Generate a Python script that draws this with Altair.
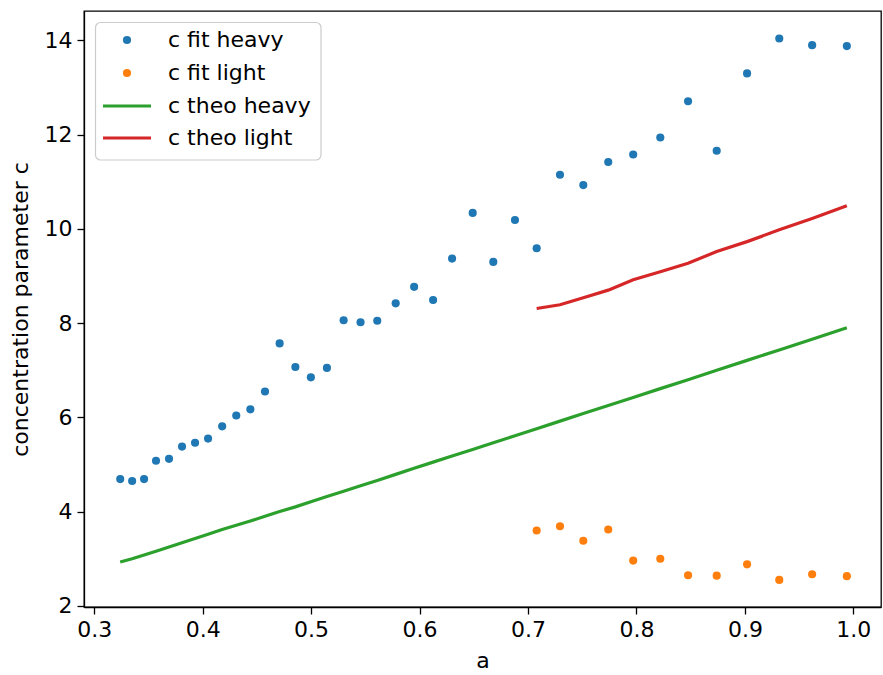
import altair as alt
import pandas as pd

# Scale factor a of the heavy sample and the fitted / theoretical concentration
a_heavy = [0.324, 0.335, 0.346, 0.357, 0.369, 0.381, 0.393, 0.405, 0.418, 0.431,
           0.444, 0.4575, 0.471, 0.4855, 0.4998, 0.5146, 0.530, 0.5456, 0.561, 0.578,
           0.595, 0.6125, 0.630, 0.649, 0.668, 0.688, 0.708, 0.7295, 0.751, 0.774,
           0.797, 0.822, 0.8476, 0.874, 0.902, 0.9317, 0.962, 0.994]
c_fit_heavy = [4.69, 4.65, 4.69, 5.08, 5.12, 5.38, 5.46, 5.55, 5.81, 6.04,
               6.17, 6.55, 7.57, 7.07, 6.85, 7.05, 8.06, 8.02, 8.05, 8.42,
               8.77, 8.49, 9.37, 10.34, 9.30, 10.19, 9.59, 11.15, 10.93, 11.42,
               11.58, 11.94, 12.71, 11.66, 13.30, 14.04, 13.90, 13.88]
c_theo_heavy = [2.93, 3.00, 3.08, 3.16, 3.25, 3.34, 3.43, 3.52, 3.62, 3.71,
                3.80, 3.90, 4.00, 4.10, 4.21, 4.32, 4.43, 4.55, 4.66, 4.79,
                4.92, 5.05, 5.18, 5.32, 5.46, 5.61, 5.76, 5.92, 6.08, 6.25,
                6.42, 6.61, 6.80, 7.00, 7.21, 7.43, 7.66, 7.90]

# Light sample only exists from a ~ 0.7 onwards
a_light = [0.708, 0.7295, 0.751, 0.774, 0.797, 0.822, 0.8476, 0.874, 0.902,
           0.9317, 0.962, 0.994]
c_fit_light = [3.60, 3.69, 3.38, 3.62, 2.96, 3.00, 2.65, 2.64, 2.88, 2.55, 2.67, 2.63]
c_theo_light = [8.31, 8.39, 8.54, 8.70, 8.92, 9.09, 9.27, 9.52, 9.73, 9.98, 10.22, 10.49]

x_ticks = [0.3, 0.4, 0.5, 0.6, 0.7, 0.8, 0.9, 1.0]
y_ticks = [2, 4, 6, 8, 10, 12, 14]

labels = ["c fit heavy", "c fit light", "c theo heavy", "c theo light"]
colors = ["#1f77b4", "#ff7f0e", "#2ca02c", "#d62728"]

FONT = "DejaVu Sans"
FS = 22
DOT = 66

heavy = pd.DataFrame({"a": a_heavy, "fit": c_fit_heavy, "theo": c_theo_heavy})
light = pd.DataFrame({"a": a_light, "fit": c_fit_light, "theo": c_theo_light})

x_enc = alt.X(
    "a:Q",
    title="a",
    scale=alt.Scale(domain=[0.2906, 1.0255], nice=False, zero=False),
    axis=alt.Axis(values=x_ticks, format=".1f", labelPadding=5, titlePadding=10),
)
y_scale = alt.Scale(domain=[1.975, 14.625], nice=False, zero=False)
y_axis = alt.Axis(values=y_ticks, format="d", labelPadding=5, titlePadding=12)

fit_heavy = alt.Chart(heavy).mark_circle(size=DOT, opacity=1, color=colors[0]).encode(
    x=x_enc,
    y=alt.Y("fit:Q", title="concentration parameter c", scale=y_scale, axis=y_axis),
)
fit_light = alt.Chart(light).mark_circle(size=DOT, opacity=1, color=colors[1]).encode(
    x="a:Q", y="fit:Q"
)
theo_heavy = alt.Chart(heavy).mark_line(strokeWidth=3.2, color=colors[2]).encode(
    x="a:Q", y="theo:Q"
)
theo_light = alt.Chart(light).mark_line(strokeWidth=3.2, color=colors[3]).encode(
    x="a:Q", y="theo:Q"
)

# Legend box in the upper-left corner of the axes
one = alt.Data(values=[{"k": 1}])
box = alt.Chart(one).mark_rect(
    fill="white", fillOpacity=0.8, stroke="#cccccc", strokeWidth=1.2, cornerRadius=5
).encode(x=alt.value(11.5), x2=alt.value(237), y=alt.value(11.5), y2=alt.value(149))

row_y = [29, 62, 95, 127]
legend_layers = [box]
for i, (lab, col) in enumerate(zip(labels, colors)):
    yy = row_y[i]
    if i < 2:
        legend_layers.append(
            alt.Chart(one).mark_circle(size=DOT, opacity=1, color=col).encode(
                x=alt.value(43), y=alt.value(yy)
            )
        )
    else:
        legend_layers.append(
            alt.Chart(one).mark_rule(strokeWidth=3.2, color=col).encode(
                x=alt.value(19), x2=alt.value(67), y=alt.value(yy)
            )
        )
    legend_layers.append(
        alt.Chart(one).mark_text(
            text=lab, align="left", baseline="middle", font=FONT, fontSize=FS, color="black"
        ).encode(x=alt.value(84), y=alt.value(yy))
    )

chart = alt.layer(fit_heavy, fit_light, theo_heavy, theo_light, *legend_layers).properties(
    width=797,
    height=596,
    autosize=alt.AutoSizeParams(type="none"),
    padding={"left": 84, "top": 11, "right": 2, "bottom": 68},
    background="white",
).configure_view(
    stroke="black", strokeWidth=1.3
).configure_axis(
    grid=False,
    labelFont=FONT,
    labelFontSize=FS,
    labelColor="black",
    titleFont=FONT,
    titleFontSize=FS,
    titleFontWeight="normal",
    titleColor="black",
    tickColor="black",
    tickSize=7,
    tickWidth=1.3,
    domainColor="black",
    domainWidth=1.3,
)

chart.save("out.html", embed_options={"renderer": "svg", "actions": False})
